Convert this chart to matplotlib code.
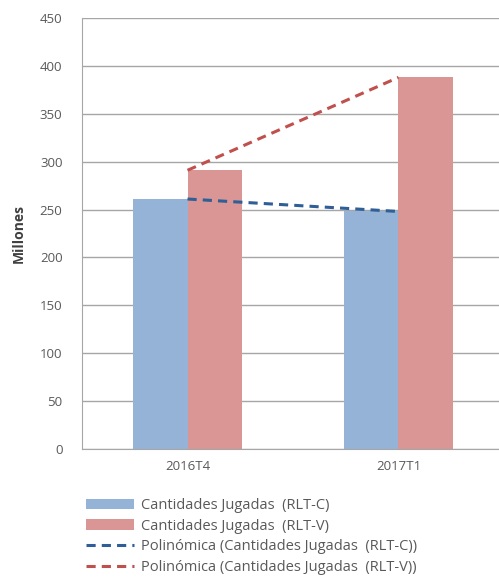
import numpy as np
import matplotlib.pyplot as plt

categories = ["2016T4", "2017T1"]
rlt_c = [261, 248]
rlt_v = [291, 388]

plt.rcParams['font.family'] = ['Open Sans', 'DejaVu Sans']

fig = plt.figure(figsize=(4.99, 5.81), dpi=100)
ax = fig.add_axes([82/499, 1 - 449/581, 422/499, 431/581])

x = np.arange(len(categories))
w = 0.26
b1 = ax.bar(x - w/2, rlt_c, w, color="#95b3d7", label="Cantidades Jugadas  (RLT-C)", zorder=2)
b2 = ax.bar(x + w/2, rlt_v, w, color="#d99694", label="Cantidades Jugadas  (RLT-V)", zorder=2)
l1, = ax.plot(x, rlt_c, color="#2f5f96", ls=(0, (3, 2)), lw=2.2, zorder=3,
              label="Polinómica (Cantidades Jugadas  (RLT-C))")
l2, = ax.plot(x, rlt_v, color="#c0504d", ls=(0, (3, 2)), lw=2.2, zorder=3,
              label="Polinómica (Cantidades Jugadas  (RLT-V))")

ax.set_xlim(-0.5, 1.5)
ax.set_ylim(0, 450)
ax.set_yticks(range(0, 451, 50))
ax.set_xticks(x)
ax.set_xticklabels(categories)
ax.yaxis.grid(True, color="#a6a6a6", lw=1, zorder=0)
for s in ["top", "right"]:
    ax.spines[s].set_visible(False)
ax.spines["left"].set_color("#a6a6a6")
ax.spines["bottom"].set_color("#a6a6a6")
ax.tick_params(axis="both", length=0, labelsize=9.5, colors="#595959", pad=8)
ax.tick_params(axis="y", pad=14)
ax.set_ylabel("Millones", fontsize=10, fontweight="bold", color="#404040", labelpad=10)

fig.legend(handles=[b1, b2, l1, l2], loc="upper left",
           bbox_to_anchor=(80/499, 1 - 492/581), frameon=False,
           fontsize=10.5, handlelength=3.3, labelspacing=0.4, handletextpad=0.45,
           borderaxespad=0, labelcolor="#595959")

plt.savefig("out.png", dpi=100)
